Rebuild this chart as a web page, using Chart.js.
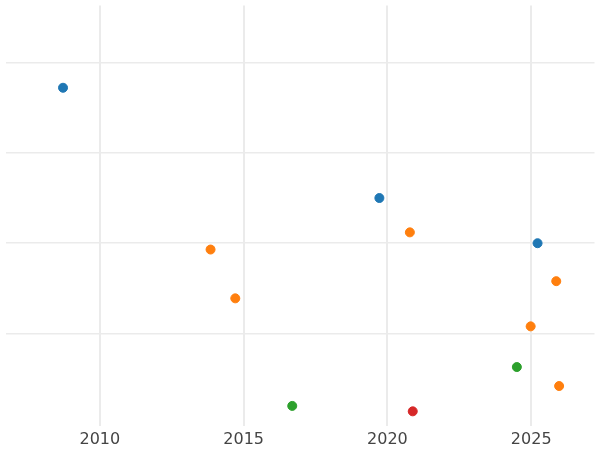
<!DOCTYPE html>
<html>
<head>
<script src="https://cdn.jsdelivr.net/npm/chart.js@4"></script>
<style>body{margin:0}#wrap{width:600px;height:450px}</style>
</head>
<body>
<div id="wrap"><canvas id="myChart"></canvas></div>
<script>
// values (y axis has no labels)
const blueYears = [2008.72, 2019.72, 2025.22];
const blueValues = [3.72, 2.5, 2.0];
const orangeYears = [2013.85, 2014.71, 2020.78, 2025.87, 2024.98, 2025.97];
const orangeValues = [1.93, 1.39, 2.12, 1.58, 1.08, 0.42];
const greenYears = [2016.69, 2024.5];
const greenValues = [0.2, 0.63];
const redYears = [2020.88];
const redValues = [0.14];
const xTicks = [2010, 2015, 2020, 2025];

function pts(xs, ys) {
    return xs.map((x, i) => ({ x: x, y: ys[i] }));
}

function series(xs, ys, color) {
    return {
        data: pts(xs, ys),
        backgroundColor: color,
        borderColor: color,
        pointRadius: 4.5,
        pointHoverRadius: 4.5
    };
}

const ctx = document.getElementById('myChart').getContext('2d');
new Chart(ctx, {
    type: 'scatter',
    data: {
        datasets: [
            series(blueYears, blueValues, '#1f77b4'),
            series(orangeYears, orangeValues, '#ff7f0e'),
            series(greenYears, greenValues, '#2ca02c'),
            series(redYears, redValues, '#d62728')
        ]
    },
    options: {
        animation: false,
        responsive: true,
        maintainAspectRatio: false,
        layout: { padding: { top: -5, right: -5, left: -5, bottom: -3 } },
        plugins: { legend: { display: false }, tooltip: { enabled: false } },
        scales: {
            x: {
                min: 2006.72,
                max: 2027.2,
                afterBuildTicks: axis => { axis.ticks = xTicks.map(v => ({ value: v })); },
                grid: { color: '#ebebeb', lineWidth: 2, drawTicks: false },
                border: { display: false },
                ticks: { color: '#444', font: { family: 'DejaVu Sans', size: 16 }, padding: 4,
                         callback: v => String(v) }
            },
            y: {
                min: -0.02,
                max: 4.63,
                afterFit: axis => { axis.width = 0; },
                afterBuildTicks: axis => { axis.ticks = [1, 2, 3, 4].map(v => ({ value: v })); },
                grid: { color: '#ebebeb', lineWidth: 1.5, drawTicks: false },
                border: { display: false },
                ticks: { display: false }
            }
        }
    }
});
</script>
</body>
</html>
